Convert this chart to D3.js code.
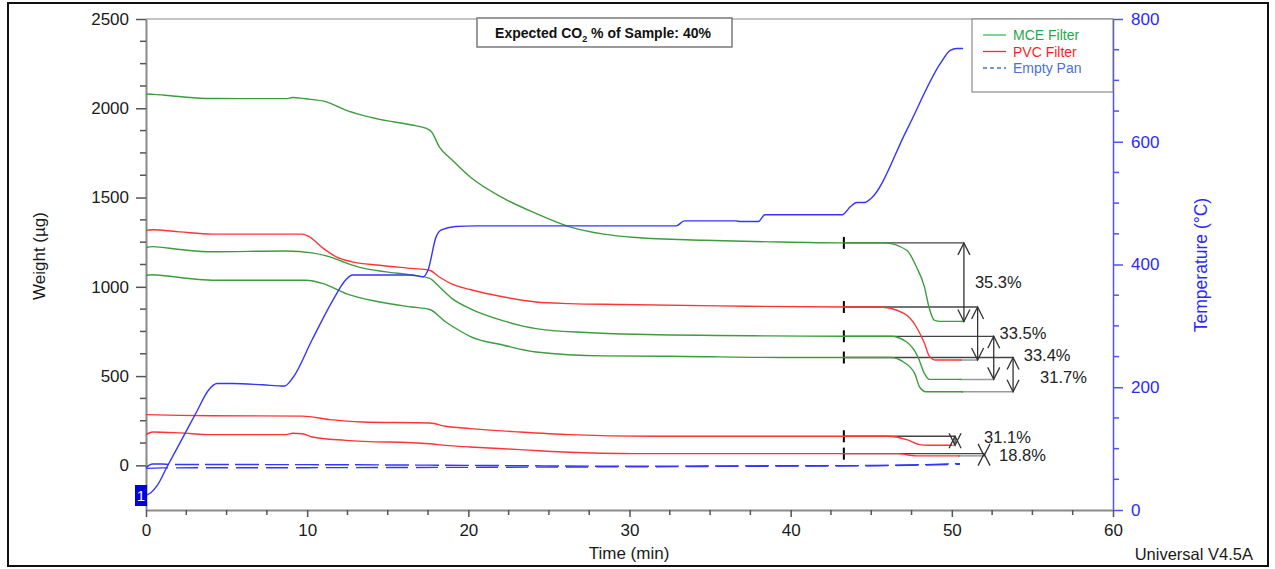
<!DOCTYPE html>
<html>
<head>
<meta charset="utf-8">
<script src="https://cdn.jsdelivr.net/npm/d3@7"></script>
<style>
  html, body { margin: 0; padding: 0; background: #fff; }
  svg { display: block; }
  text { font-family: "Liberation Sans", Arial, sans-serif; }
</style>
</head>
<body>
<svg id="chart" width="1275" height="569"></svg>
<script>
// ---- data: [time (min), weight (µg)] ----
const mceHigh = [[0,2080],[0.5,2078],[1.5,2070],[2.5,2062],[4,2055],[6,2054],[8.7,2054],[9.1,2060],[9.9,2053],[11.2,2036],[12.4,1990],[13.4,1962],[14.5,1938],[16.5,1906],[17.4,1887],[17.7,1870],[18.2,1784],[19.0,1710],[20.1,1616],[22.2,1495],[24.2,1411],[26.3,1336],[28.4,1295],[30.4,1276],[34.6,1261],[38.7,1252],[43.3,1246],[45.8,1246],[47.2,1205],[47.8,1112],[48.3,1000],[48.6,880],[48.9,814],[49.3,806.2],[50.7,806.2]];
const pvcHigh = [[0,1317],[0.4,1320],[2.1,1308],[4.1,1295],[9.7,1295],[10.1,1282],[11.0,1215],[11.8,1168],[12.8,1140],[14.5,1121],[16.5,1103],[17.6,1093],[18.2,1055],[19.0,1015],[20.1,985],[22.2,943],[24.2,915],[26.3,906],[29.4,901],[35.6,893],[43.3,887],[45.5,887],[47.0,852],[47.8,775],[48.3,684],[48.6,612],[49.0,589.9],[50.6,589.9]];
const mceMid = [[0,1220],[0.4,1225],[2.1,1209],[4.1,1196],[8.7,1201],[10.3,1190],[11.4,1168],[12.4,1134],[13.4,1106],[14.9,1084],[16.5,1065],[17.6,1047],[18.2,1000],[19.0,934],[20.1,878],[22.2,809],[24.2,766],[27.3,744],[30.4,734],[38.7,725],[43.3,723],[46.2,723],[47.2,691],[47.9,607],[48.3,514],[48.6,481.5],[50.6,481.5]];
const mceLow = [[0,1065],[0.4,1068],[2.1,1052],[4.1,1037],[9.9,1037],[11.0,1018],[12.4,962],[14.5,915],[16.5,887],[17.6,873],[18.6,803],[19.6,747],[20.1,723],[22.2,673],[24.2,635],[28.4,613],[32.5,611],[39.9,604],[43.3,604],[46.2,604],[47.0,579],[47.7,514],[48.0,439],[48.4,412.5],[50.7,412.5]];
const pvcMid = [[0,284],[2.1,280],[4.1,278],[9.7,276],[11.4,256],[13.4,243],[17.6,237],[18.6,219],[20.1,206],[23.2,187],[26.3,172],[31.3,163],[43.3,163],[46.0,163],[47.2,144],[48.0,116],[48.5,112.3],[50.0,112.3]];
const pvcLow = [[0,172],[0.4,187],[2.1,182],[4.1,172],[8.7,172],[9.1,180],[9.7,177],[10.3,159],[12.4,140],[17.6,121],[18.6,112],[20.1,103],[23.2,88],[25.9,75],[30.4,65.6],[43.3,65.6],[46.6,65.6],[47.8,53.3],[50.5,53.3]];
const emptyPanA = [[0,-12],[0.4,8],[1,8],[1.5,5],[10,4],[20,0],[30,-5],[40,-2],[45,-1],[50.5,10]];
const emptyPanB = [[0,-17],[1,-14],[10,-13],[20,-11],[30,-8],[40,-4],[45,-2],[50.5,6]];

// ---- data: [time (min), temperature (°C)] ----
const temperature = [[0,24],[0.3,28],[0.7,40],[1.3,70],[2.1,109],[3.1,158],[3.9,196],[4.4,206],[5.4,206],[7.2,204],[8.6,202],[9.1,215],[10.3,277],[11.6,342],[12.4,375],[12.8,383],[16.5,383],[17.2,380],[17.5,391],[18.0,445],[18.3,456],[19.2,462],[20.5,463],[32.9,463],[33.4,471],[36.6,471],[36.9,470],[38.0,470],[38.4,481],[43.2,481],[43.7,494],[44.1,501],[44.6,501],[45.0,508],[47.2,619],[49.3,728],[49.9,749],[50.3,752],[50.7,752]];

// ---- step analyses: weight loss (%) from the onset time, bracket time ----
const stepSeries = ["mceHigh","pvcHigh","mceMid","mceLow","pvcMid","pvcLow"];
const stepOnset = [43.3, 43.3, 43.3, 43.3, 43.3, 43.3];
const stepPercent = [35.3, 33.5, 33.4, 31.7, 31.1, 18.8];
const stepBracketTime = [50.75, 51.6, 52.6, 53.8, 50.2, 52.0];

// ---- axis ticks ----
const weightTicks = [0, 500, 1000, 1500, 2000, 2500];
const weightMinorTicks = d3.range(-125, 2500, 125);
const tempTicks = [0, 200, 400, 600, 800];
const tempMinorTicks = d3.range(50, 800, 50);
const timeTicks = [0, 10, 20, 30, 40, 50, 60];
const timeMinorTicks = d3.range(2.5, 60, 2.5);

const legendLabels = ["MCE Filter", "PVC Filter", "Empty Pan"];

// ---- layout ----
const svg = d3.select("#chart");
const GREEN = "#3d9c3d", RED = "#ff3535", BLUE = "#3535ff", AXIS = "#8a8a8a";
const x = d3.scaleLinear([0, 60], [146, 1113]);
const yW = d3.scaleLinear([-250, 2500], [510, 19]);
const yT = d3.scaleLinear([0, 800], [510, 19]);
const plain = d3.format("d");

// outer frame
svg.append("rect").attr("x", 8).attr("y", 3).attr("width", 1260).attr("height", 563)
  .attr("fill", "none").attr("stroke", "#111").attr("stroke-width", 2);

// plot top edge
svg.append("line").attr("x1", x(0)).attr("x2", x(60)).attr("y1", 19).attr("y2", 19)
  .attr("stroke", AXIS).attr("stroke-width", 1);

// left axis (weight)
const gL = svg.append("g").attr("transform", `translate(${x(0)},0)`);
gL.call(d3.axisLeft(yW).tickValues(weightTicks).tickFormat(plain).tickSize(10).tickSizeOuter(0).tickPadding(7));
gL.selectAll(".tick text").attr("font-size", 17).attr("fill", "#1a1a1a").attr("font-family", "Liberation Sans, Arial, sans-serif");
gL.selectAll("line, path").attr("stroke", AXIS);
gL.select("path").attr("stroke-width", 2);
gL.selectAll(".tick line").attr("stroke", "#555").attr("stroke-width", 1.5);
svg.append("g").selectAll("line").data(weightMinorTicks.filter(v => v % 500 !== 0)).join("line")
  .attr("x1", x(0) - 6).attr("x2", x(0)).attr("y1", d => yW(d)).attr("y2", d => yW(d))
  .attr("stroke", "#555").attr("stroke-width", 1.5);

// right axis (temperature)
const gR = svg.append("g").attr("transform", `translate(${x(60)},0)`);
gR.call(d3.axisRight(yT).tickValues(tempTicks).tickFormat(plain).tickSize(10).tickSizeOuter(0).tickPadding(8));
gR.selectAll(".tick text").attr("font-size", 17).attr("fill", "#2a2aff").attr("font-family", "Liberation Sans, Arial, sans-serif");
gR.selectAll("line, path").attr("stroke", "#5050ff").attr("stroke-width", 1.5);
svg.append("g").selectAll("line").data(tempMinorTicks.filter(v => v % 200 !== 0)).join("line")
  .attr("x1", x(60)).attr("x2", x(60) + 6).attr("y1", d => yT(d)).attr("y2", d => yT(d))
  .attr("stroke", "#5050ff").attr("stroke-width", 1.5);

// bottom axis (time)
const gB = svg.append("g").attr("transform", `translate(0,${yW(-250)})`);
gB.call(d3.axisBottom(x).tickValues(timeTicks).tickFormat(plain).tickSize(7).tickSizeOuter(0).tickPadding(7));
gB.selectAll(".tick text").attr("font-size", 17).attr("fill", "#1a1a1a").attr("font-family", "Liberation Sans, Arial, sans-serif");
gB.selectAll("line, path").attr("stroke", AXIS);
gB.select("path").attr("stroke-width", 2);
gB.selectAll(".tick line").attr("stroke", "#555").attr("stroke-width", 1.5);
svg.append("g").selectAll("line").data(timeMinorTicks.filter(v => v % 10 !== 0)).join("line")
  .attr("x1", d => x(d)).attr("x2", d => x(d)).attr("y1", yW(-250)).attr("y2", yW(-250) + 5)
  .attr("stroke", "#555").attr("stroke-width", 1.5);

// axis titles
svg.append("text").attr("transform", `translate(45,256) rotate(-90)`).attr("text-anchor", "middle")
  .attr("font-size", 17).attr("fill", "#1a1a1a").text("Weight (µg)");
svg.append("text").attr("transform", `translate(1207,265) rotate(-90)`).attr("text-anchor", "middle")
  .attr("font-size", 17.5).attr("fill", "#2a2aff").text("Temperature (°C)");
svg.append("text").attr("x", 629).attr("y", 559).attr("text-anchor", "middle")
  .attr("font-size", 17).attr("fill", "#1a1a1a").text("Time (min)");
svg.append("text").attr("x", 1253).attr("y", 560).attr("text-anchor", "end")
  .attr("font-size", 16.5).attr("fill", "#1a1a1a").text("Universal V4.5A");

// step analysis brackets (drawn beneath the curves)
const seriesByName = { mceHigh, pvcHigh, mceMid, mceLow, pvcMid, pvcLow };
const labelDx = [11, 22, 30, 27, 29, 15];
const labelDy = [0, 0, -3, 2, -4, 0];
const lastTime = name => seriesByName[name][seriesByName[name].length - 1][0];
const valueAt = (name, t) => {
  const s = seriesByName[name];
  const i = d3.bisector(d => d[0]).left(s, t);
  return s[Math.min(i, s.length - 1)][1];
};
const steps = stepSeries.map((name, i) => {
  const start = valueAt(name, stepOnset[i]);
  return { name, t0: stepOnset[i], tb: stepBracketTime[i], start,
           end: start * (1 - stepPercent[i] / 100), pct: stepPercent[i], i };
});
const gA = svg.append("g");
steps.forEach(s => {
  const xb = x(s.tb), y1 = yW(s.start), y2 = yW(s.end);
  gA.append("line").attr("x1", x(s.t0)).attr("x2", xb).attr("y1", y1).attr("y2", y1)
    .attr("stroke", "#444").attr("stroke-width", 1.3);
  gA.append("line").attr("x1", x(lastTime(s.name)) - 2).attr("x2", xb).attr("y1", y2).attr("y2", y2)
    .attr("stroke", "#9a9a9a").attr("stroke-width", 1.5);
});

// curves
const lineW = d3.line().x(d => x(d[0])).y(d => yW(d[1])).curve(d3.curveMonotoneX);
const curves = [
  { data: mceHigh, color: GREEN }, { data: mceMid, color: GREEN }, { data: mceLow, color: GREEN },
  { data: pvcHigh, color: RED }, { data: pvcMid, color: RED }, { data: pvcLow, color: RED }
];
svg.append("g").selectAll("path").data(curves).join("path")
  .attr("d", d => lineW(d.data)).attr("fill", "none")
  .attr("stroke", d => d.color).attr("stroke-width", 1.4);
svg.append("g").selectAll("path").data([emptyPanA, emptyPanB]).join("path")
  .attr("d", d => lineW(d)).attr("fill", "none").attr("stroke", BLUE)
  .attr("stroke-width", 1.4).attr("stroke-dasharray", (d, i) => i ? "22,8" : "24,6");
const lineT = d3.line().x(d => x(d[0])).y(d => yT(d[1])).curve(d3.curveMonotoneX);
svg.append("path").attr("d", lineT(temperature)).attr("fill", "none")
  .attr("stroke", BLUE).attr("stroke-width", 1.4);

// step onset markers, arrows and labels
steps.forEach(s => {
  const xb = x(s.tb), y1 = yW(s.start), y2 = yW(s.end);
  gA.append("line").attr("x1", x(s.t0)).attr("x2", x(s.t0)).attr("y1", y1 - 6).attr("y2", y1 + 6)
    .attr("stroke", "#000").attr("stroke-width", 2);
  const g = svg.append("g").attr("stroke", "#333").attr("stroke-width", 1.3).attr("fill", "none");
  g.append("line").attr("x1", xb).attr("x2", xb).attr("y1", y1).attr("y2", y2);
  g.append("path").attr("d", `M${xb - 6},${y1 + 12}L${xb},${y1}L${xb + 6},${y1 + 12}`);
  g.append("path").attr("d", `M${xb - 6},${y2 - 12}L${xb},${y2}L${xb + 6},${y2 - 12}`);
  svg.append("text").attr("x", xb + labelDx[s.i]).attr("y", (y1 + y2) / 2 + labelDy[s.i])
    .attr("dy", "0.36em").attr("font-size", 16.5).attr("fill", "#222").text(s.pct.toFixed(1) + "%");
});

// run marker
svg.append("rect").attr("x", 135).attr("y", 485).attr("width", 12).attr("height", 21).attr("fill", "#0000e0");
svg.append("text").attr("x", 141).attr("y", 501).attr("text-anchor", "middle")
  .attr("font-size", 15).attr("fill", "#fff").text("1");

// note box
const note = svg.append("g");
note.append("rect").attr("x", 477).attr("y", 18).attr("width", 255).attr("height", 29)
  .attr("fill", "#fff").attr("stroke", "#7a7a7a").attr("stroke-width", 1.5);
const nt = note.append("text").attr("x", 603).attr("y", 38).attr("text-anchor", "middle")
  .attr("font-family", "Lato, 'Open Sans', sans-serif").attr("font-weight", "bold")
  .attr("font-size", 14).attr("fill", "#111");
nt.append("tspan").text("Expected CO");
nt.append("tspan").attr("font-size", 9).attr("dy", 4).text("2");
nt.append("tspan").attr("dy", -4).text(" % of Sample: 40%");

// legend
const lg = svg.append("g");
lg.append("rect").attr("x", 972).attr("y", 19).attr("width", x(60) - 972).attr("height", 73)
  .attr("fill", "#fff").attr("stroke", "#777").attr("stroke-width", 1);
const legendColors = ["#3cba5c", "#ff2a2a", "#4a72d0"];
const legendText = ["#1fa84a", "#ff1f1f", "#4a72d0"];
legendLabels.forEach((label, i) => {
  const yy = 35 + i * 16.5;
  lg.append("line").attr("x1", 983).attr("x2", 1006).attr("y1", yy).attr("y2", yy)
    .attr("stroke", legendColors[i]).attr("stroke-width", 1.3)
    .attr("stroke-dasharray", i === 2 ? "4,3" : null);
  lg.append("text").attr("x", 1013).attr("y", yy).attr("dy", "0.36em")
    .attr("font-size", 14).attr("fill", legendText[i]).text(label);
});
</script>
</body>
</html>
